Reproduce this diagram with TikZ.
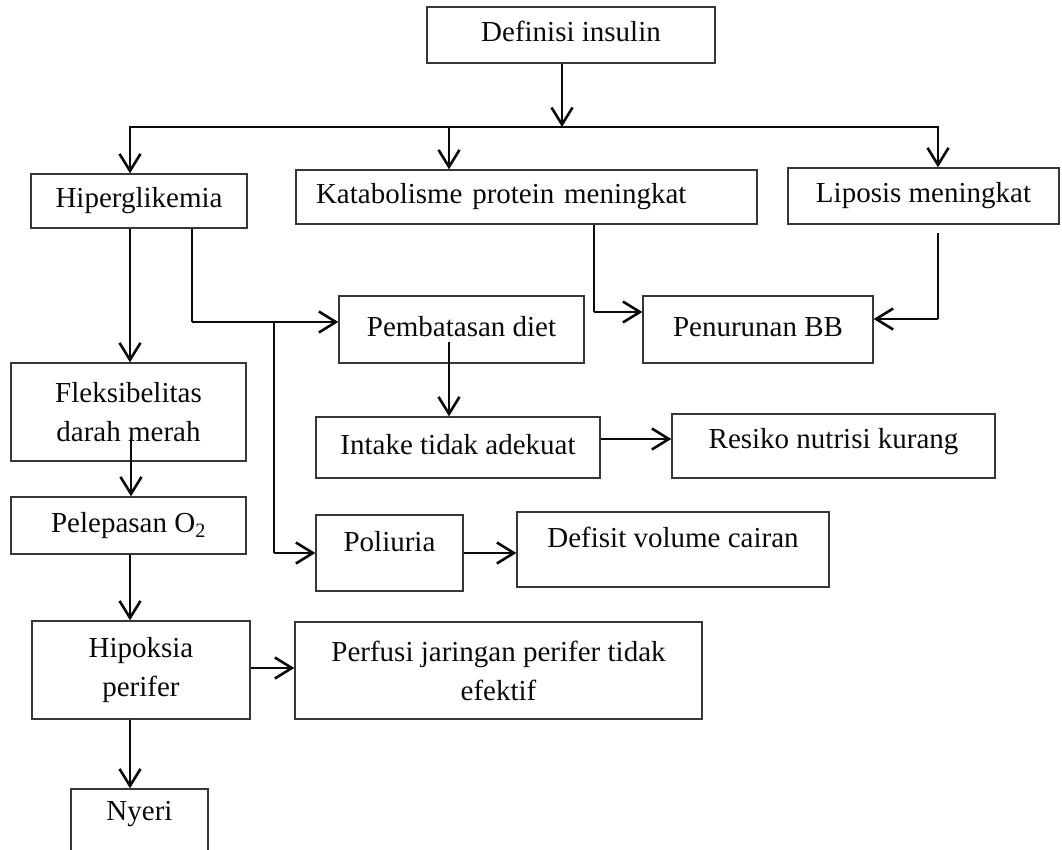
\documentclass[tikz,border=0pt]{standalone}
\usepackage{fontspec}
\setmainfont{Liberation Serif}
\usepackage{xcolor}
\usepackage{tikz}
\usetikzlibrary{arrows.meta}
\definecolor{ink}{RGB}{10,10,10}
\definecolor{frameLine}{RGB}{55,55,55}
\tikzset{
  box/.style={
    draw=frameLine,
    line width=1.3pt,
    align=center,
    inner sep=2pt,
    font=\fontsize{29}{39}\selectfont,
    text=ink
  },
  oneLine/.style={box, text height=20pt, text depth=6pt},
  link/.style={draw=ink, line width=1.3pt},
  flow/.style={-{Straight Barb[length=17pt,width=21pt]}, draw=ink, line width=2.6pt},
  bus/.style={draw=ink, line width=2.6pt, line cap=rect}
}

\begin{document}
\begin{tikzpicture}[x=1pt, y=-1pt]
  \useasboundingbox (0,0) rectangle (1062,850);

  \node[oneLine, minimum width=288pt, minimum height=56pt] (def) at (571,35) {Definisi insulin};
  \node[oneLine, minimum width=216pt, minimum height=54pt] (hiper) at (139,201) {Hiperglikemia};
  \node[oneLine, text width=421pt, inner xsep=20pt, align=left, minimum height=54pt] (katab) at (526.5,197) {Katabolisme protein meningkat};
  \node[oneLine, minimum width=271pt, minimum height=56pt] (lipo) at (923.5,196) {Liposis meningkat};

  \node[oneLine, minimum width=245pt, minimum height=67pt] (pemb) at (461.5,329.5) {Pembatasan diet};
  \node[oneLine, minimum width=230pt, minimum height=67pt] (penur) at (758,329.5) {Penurunan BB};
  \node[box, minimum width=235pt, minimum height=98pt] (fleks) at (128.5,412) {Fleksibelitas\\darah merah};
  \node[oneLine, minimum width=284pt, minimum height=61pt] (intake) at (458,447.5) {Intake tidak adekuat};
  \node[oneLine, text depth=16pt, minimum width=323pt, minimum height=64pt] (resiko) at (833.5,446) {Resiko nutrisi kurang};

  \node[oneLine, minimum width=235pt, minimum height=57pt] (pelep) at (128.5,525.5) {Pelepasan O\textsubscript{2}};
  \node[oneLine, text depth=24pt, minimum width=147pt, minimum height=76pt] (poli) at (389.5,553) {Poliuria};
  \node[oneLine, text depth=24pt, minimum width=312pt, minimum height=75pt] (defisit) at (673,549.5) {Defisit volume cairan};

  \node[box, minimum width=218pt, minimum height=98pt] (hipok) at (141,670) {Hipoksia\\perifer};
  \node[box, minimum width=407pt, minimum height=97pt] (perfusi) at (498.5,670.5) {Perfusi jaringan perifer tidak\\efektif};
  \node[oneLine, text depth=24pt, minimum width=137pt, minimum height=67pt] (nyeri) at (139.5,822.5) {Nyeri};

  \coordinate (busL) at (130,127);
  \coordinate (busM) at (449,127);
  \coordinate (busR) at (938,127);
  \coordinate (busIn) at (562,127);
  \coordinate (hiperTurn) at (192,322);
  \coordinate (poliTurn) at (274,322);
  \coordinate (pembOut) at (449,342);
  \coordinate (katabTurn) at (594,312);
  \coordinate (lipoTurn) at (938,319);
  \coordinate (fleksOut) at (131,438);

  \draw[flow] (def.south -| busIn) -- (busIn);
  \draw[bus] (busL) -- (busR);
  \draw[flow] (busL) -- (busL |- hiper.north);
  \draw[flow] (busM) -- (busM |- katab.north);
  \draw[flow] (busR) -- (busR |- lipo.north);

  \draw[flow] (hiper.south -| busL) -- (fleks.north -| busL);
  \draw[link] (hiper.south -| hiperTurn) -- (hiperTurn);
  \draw[flow] (hiperTurn) -- (hiperTurn -| pemb.west);
  \draw[link] (poliTurn) -- (poliTurn |- poli.west);
  \draw[flow] (poliTurn |- poli.west) -- (poli.west);

  \draw[link] (katab.south -| katabTurn) -- (katabTurn);
  \draw[flow] (katabTurn) -- (katabTurn -| penur.west);
  \draw[link] ([yshift=-8pt]lipo.south -| lipoTurn) -- (lipoTurn);
  \draw[flow] (lipoTurn) -- (lipoTurn -| penur.east);

  \draw[flow] (pembOut) -- (pembOut |- intake.north);
  \draw[flow] ([yshift=8.5pt]intake.east) -- ([yshift=8.5pt]intake.east -| resiko.west);
  \draw[flow] (poli.east) -- (poli.east -| defisit.west);

  \draw[flow] (fleksOut) -- (fleksOut |- pelep.north);
  \draw[flow] (pelep.south -| busL) -- (hipok.north -| busL);
  \draw[flow] ([yshift=2pt]hipok.east) -- ([yshift=2pt]hipok.east -| perfusi.west);
  \draw[flow] (hipok.south -| busL) -- (nyeri.north -| busL);
\end{tikzpicture}
\end{document}
